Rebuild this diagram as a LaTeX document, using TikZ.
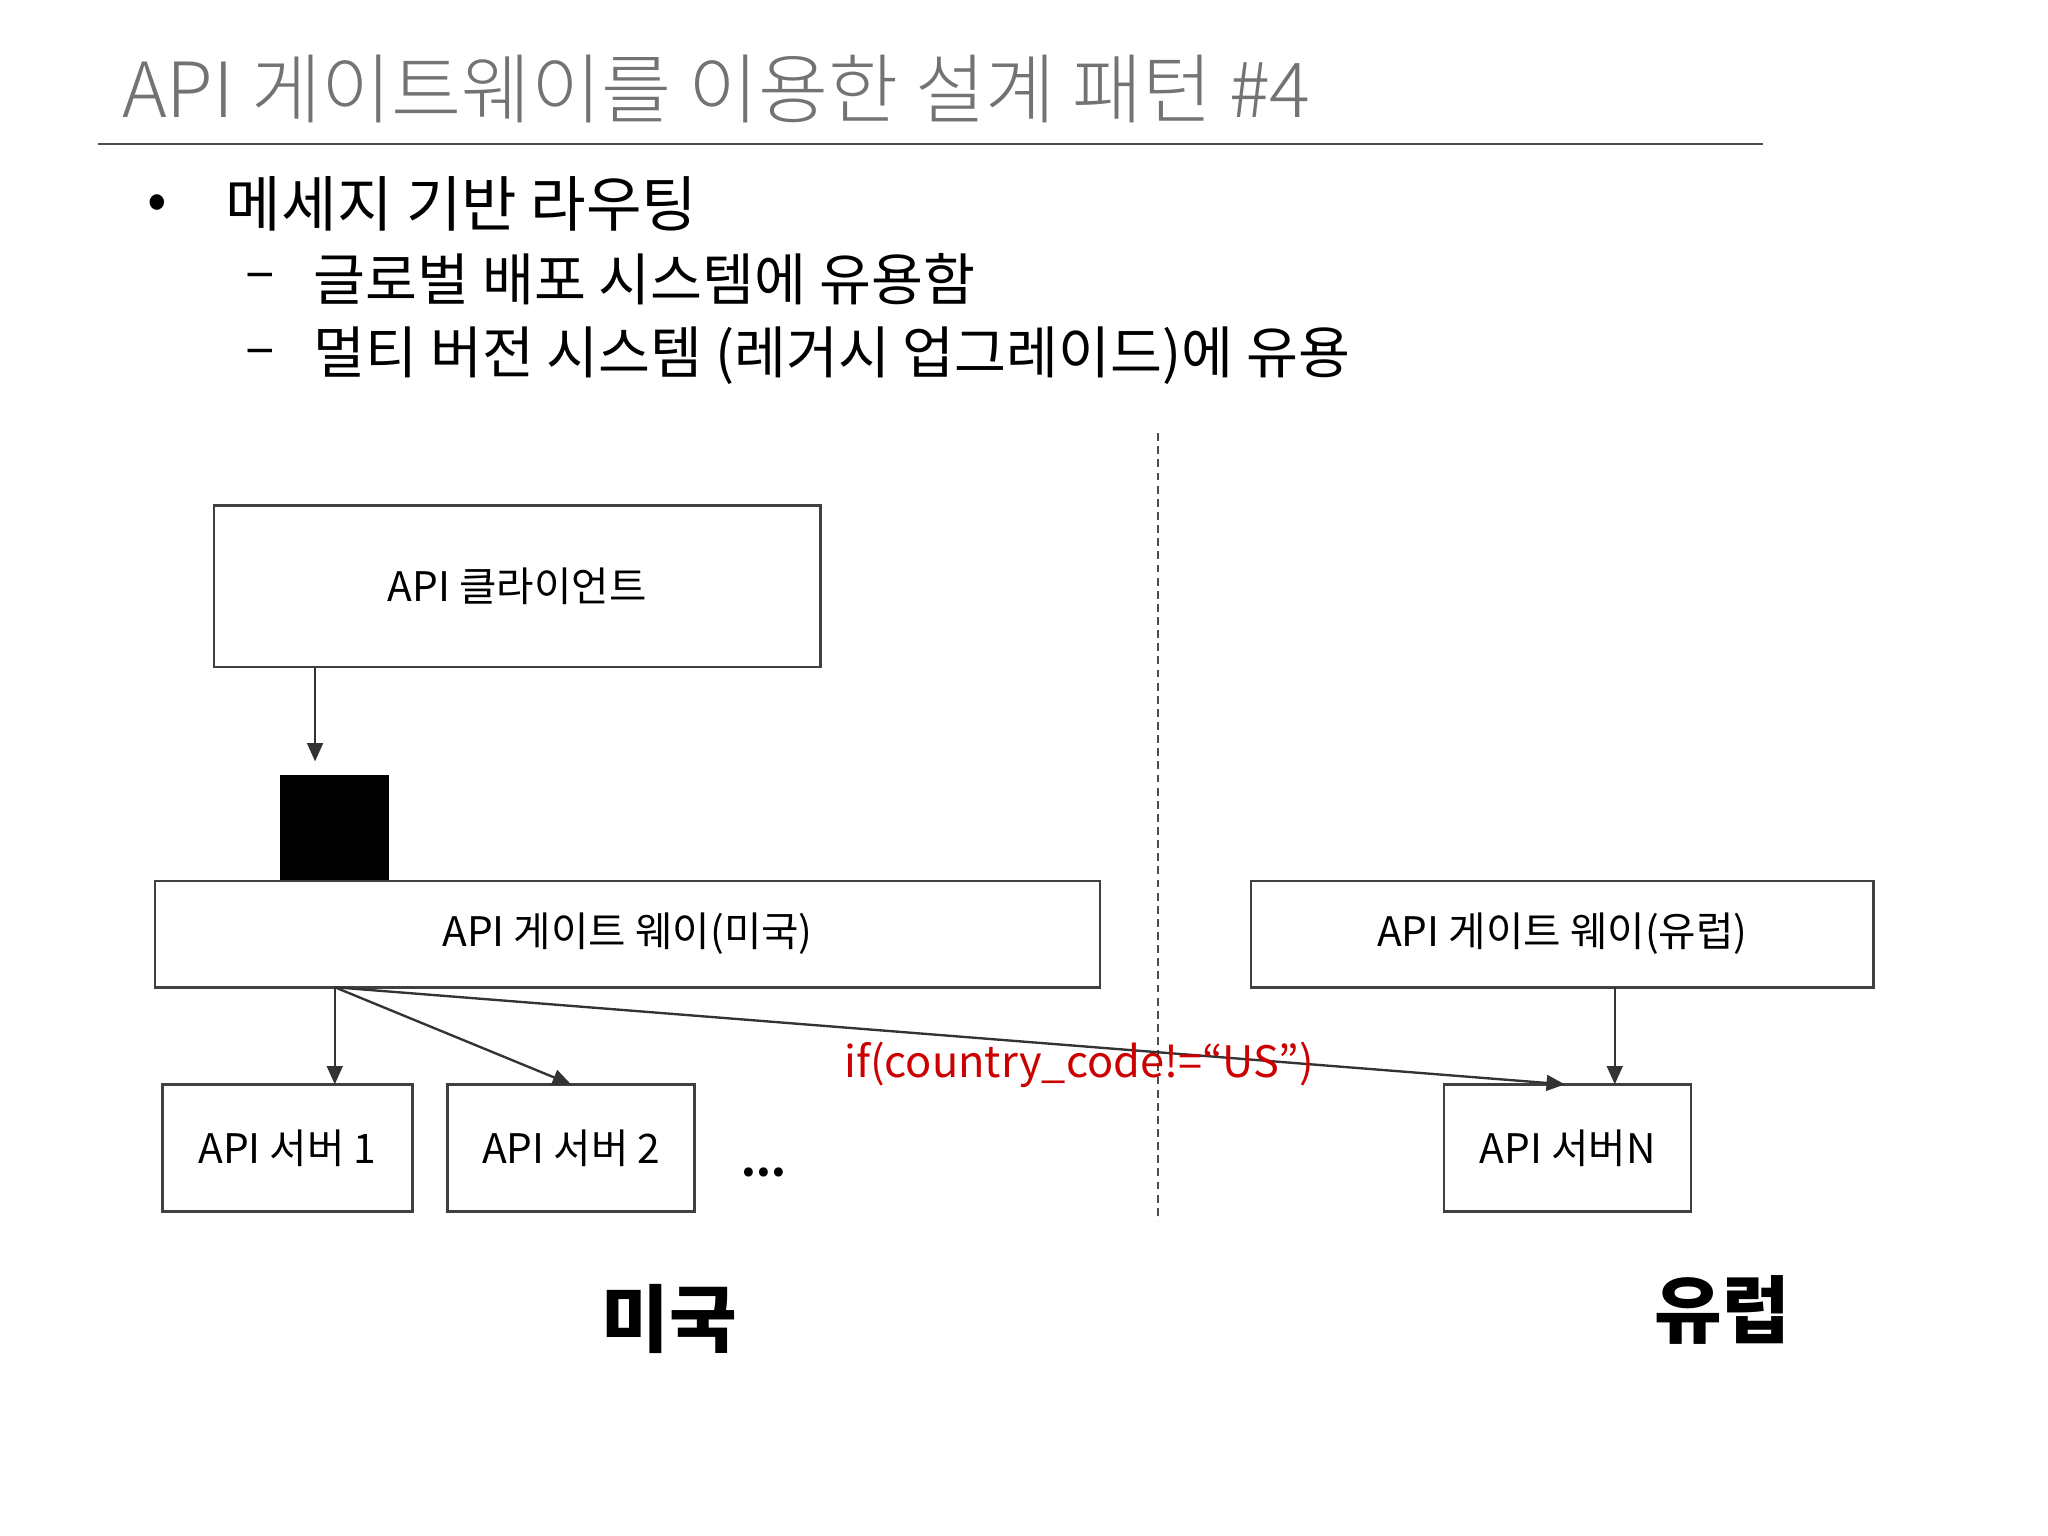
\documentclass[tikz,border=0pt]{standalone}
\usepackage{fontspec}
\setmainfont{Noto Sans CJK KR}
\newfontfamily\kr{Noto Sans CJK KR}
\newfontfamily\krl{Noto Sans CJK KR Light}
\usetikzlibrary{arrows.meta}
\begin{document}
\begin{tikzpicture}[x=0.5pt,y=-0.5pt,
  bx/.style={draw=black!75,line width=1pt,font=\kr\fontsize{15.5}{17}\selectfont},
  ar/.style={-{Triangle[length=7pt,width=6pt]},line width=0.9pt,black!80}]
\useasboundingbox (0,0) rectangle (1560,1170);
\node[anchor=west,text=black!55,font=\krl\fontsize{29}{32}\selectfont] (title) at (86,68) {API 게이트웨이를 이용한 설계 패턴 \#4};
\draw[black!70,line width=0.8pt] (75,110) -- (1343,110);
\node[anchor=west,font=\kr\fontsize{22}{26}\selectfont] (b0) at (105,158) {•};
\node[anchor=west,font=\kr\fontsize{23}{26}\selectfont] (b1) at (165,155) {메세지 기반 라우팅};
\node[anchor=west,font=\kr\fontsize{21}{24}\selectfont] (d1) at (180,215) {–};
\node[anchor=west,font=\kr\fontsize{21.5}{24}\selectfont] (b2) at (232,213) {글로벌 배포 시스템에 유용함};
\node[anchor=west,font=\kr\fontsize{21}{24}\selectfont] (d2) at (180,273) {–};
\node[anchor=west,font=\kr\fontsize{21.5}{24}\selectfont] (b3) at (232,271) {멀티 버전 시스템 (레거시 업그레이드)에 유용};
\coordinate (dt) at (882,330); \coordinate (db) at (882,930);
\draw[dash pattern=on 3pt off 2pt,line width=1pt,black!70] (dt) -- (db);
\node[bx,minimum width=231pt,minimum height=61.5pt] (cl) at (394,446.5) {API 클라이언트};
\node[fill=black,minimum width=41.5pt,minimum height=40pt,inner sep=0] (sq) at (254.5,630) {};
\node[bx,minimum width=360pt,minimum height=40.5pt] (gus) at (478,711.5) {API 게이트 웨이(미국)};
\node[bx,minimum width=237pt,minimum height=40.5pt] (geu) at (1190,711.5) {API 게이트 웨이(유럽)};
\node[bx,minimum width=95pt,minimum height=48.5pt] (s1) at (219,874.5) {API 서버 1};
\node[bx,minimum width=94pt,minimum height=48.5pt] (s2) at (435,874.5) {API 서버 2};
\node[bx,minimum width=94pt,minimum height=48.5pt] (sn) at (1194,874.5) {API 서버N};
\node[font=\kr\bfseries\fontsize{16}{18}\selectfont] (dots) at (582,893) {...};
\draw[ar] (240,508) -- (240,580);
\coordinate (o) at (255,752);
\draw[ar] (o) -- (255,826);
\draw[ar] (o) -- (435,826);
\draw[ar] (o) -- (1192,826);
\draw[ar] (1230,752) -- (1230,826);
\node[text=red!80!black,font=\kr\fontsize{16.5}{18}\selectfont] (cond) at (822,811) {if(country\_code!=“US”)};
\node[font=\kr\bfseries\fontsize{28}{32}\selectfont] (us) at (510,1005) {미국};
\node[font=\kr\bfseries\fontsize{28}{32}\selectfont] (eu) at (1312,998) {유럽};
\end{tikzpicture}
\end{document}
